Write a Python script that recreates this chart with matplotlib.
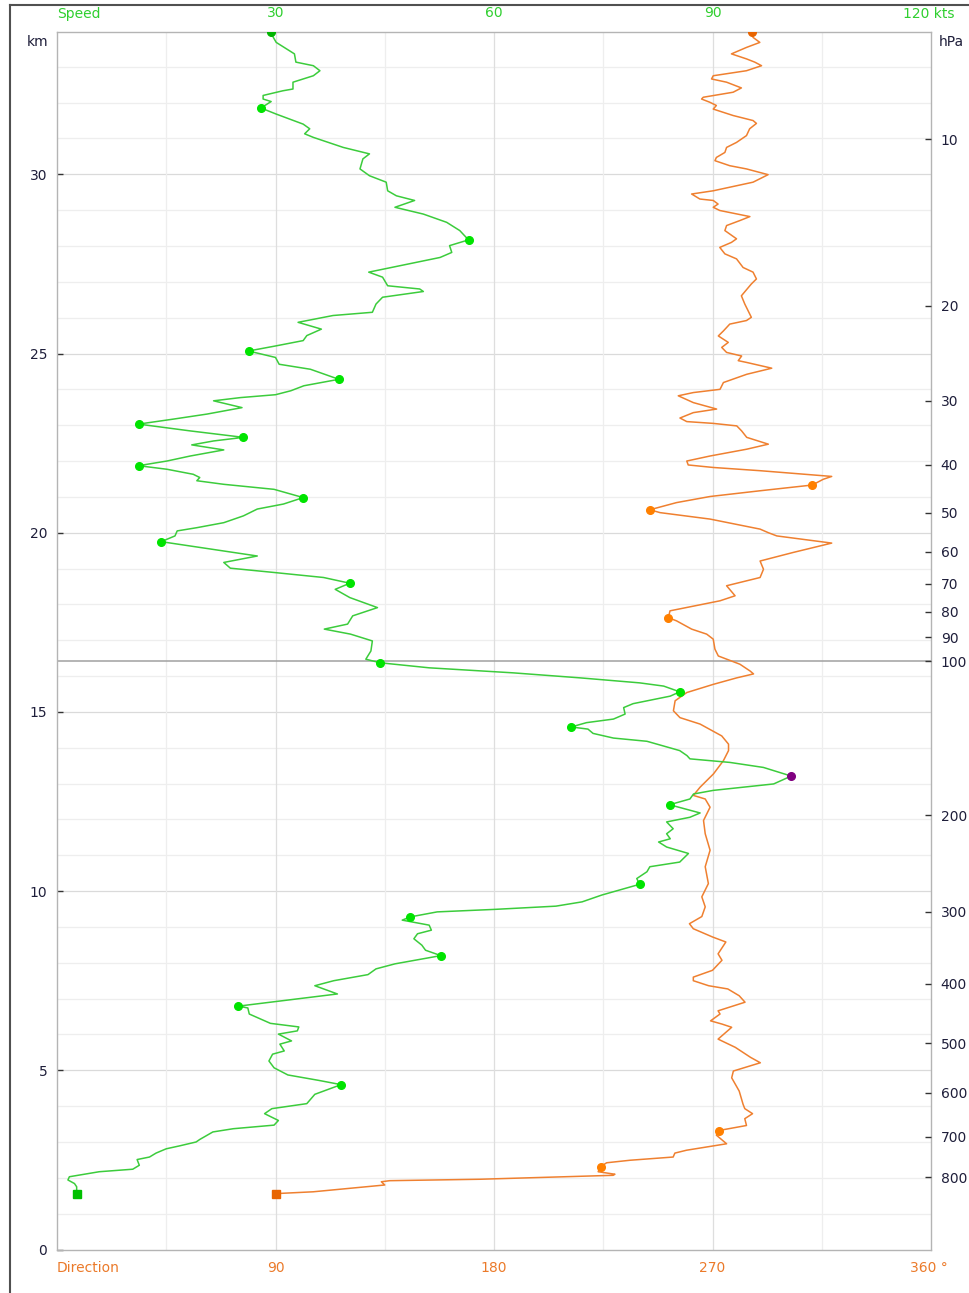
import matplotlib
matplotlib.use("Agg")
import matplotlib.pyplot as plt
from matplotlib.lines import Line2D
from matplotlib.transforms import blended_transform_factory

# ----------------------------
# Data
# ----------------------------

# wind speed profile (height km, speed kts), bottom to top
speed_km = [1.56, 1.75, 1.84, 1.94, 2.03, 2.17, 2.24, 2.35, 2.51, 2.58, 2.69, 2.81, 2.89, 3.00, 3.07,
            3.28, 3.37, 3.47, 3.60, 3.79, 3.93, 4.07, 4.33, 4.60, 4.72, 4.87, 5.07, 5.26, 5.45, 5.54,
            5.73, 5.82, 6.01, 6.10, 6.21, 6.31, 6.57, 6.74, 6.79, 7.13, 7.36, 7.50, 7.67, 7.83, 7.97,
            8.20, 8.35, 8.49, 8.67, 8.81, 8.91, 9.05, 9.19, 9.28, 9.42, 9.49, 9.58, 9.70, 9.89, 10.19,
            10.35, 10.54, 10.68, 10.81, 11.05, 11.23, 11.37, 11.46, 11.60, 11.74, 11.93, 12.06, 12.18,
            12.41, 12.57, 12.71, 12.81, 12.99, 13.21, 13.45, 13.59, 13.69, 13.78, 13.92, 14.18, 14.27,
            14.40, 14.52, 14.58, 14.70, 14.80, 14.94, 15.12, 15.23, 15.44, 15.56, 15.72, 15.81, 15.95,
            16.09, 16.23, 16.37, 16.47, 16.70, 16.98, 17.17, 17.31, 17.45, 17.68, 17.91, 18.19, 18.42,
            18.59, 18.75, 18.89, 19.01, 19.17, 19.35, 19.63, 19.75, 19.91, 20.05, 20.14, 20.28, 20.47,
            20.66, 20.80, 20.98, 21.21, 21.35, 21.45, 21.54, 21.63, 21.77, 21.87, 22.00, 22.14, 22.31,
            22.45, 22.56, 22.66, 22.84, 23.03, 23.17, 23.31, 23.49, 23.68, 23.77, 23.85, 23.96, 24.10,
            24.28, 24.56, 24.70, 24.89, 25.07, 25.21, 25.36, 25.50, 25.68, 25.87, 26.06, 26.15, 26.38,
            26.57, 26.73, 26.80, 26.89, 27.13, 27.27, 27.45, 27.68, 27.82, 28.01, 28.17, 28.43, 28.66,
            28.89, 29.08, 29.27, 29.40, 29.54, 29.78, 29.96, 30.15, 30.43, 30.57, 30.75, 31.03, 31.13,
            31.27, 31.40, 31.68, 31.85, 32.03, 32.10, 32.20, 32.33, 32.38, 32.57, 32.75, 32.89, 33.03,
            33.13, 33.36, 33.50, 33.68, 33.82, 33.96]
speed_kts = [2.7, 2.7, 2.4, 1.5, 1.7, 5.8, 10.4, 11.3, 11.0, 12.7, 13.6, 15.0, 16.8, 19.1, 19.6,
             21.4, 24.2, 29.8, 30.4, 28.5, 29.5, 34.3, 35.4, 39.0, 35.9, 31.7, 29.8, 29.1, 29.6, 31.2,
             30.6, 32.2, 30.4, 33.0, 33.2, 29.3, 26.4, 26.2, 24.9, 38.5, 35.4, 38.0, 42.7, 43.8, 46.4,
             52.7, 50.6, 50.1, 49.0, 49.5, 51.4, 51.1, 47.4, 48.5, 52.2, 60.1, 68.5, 72.1, 74.8, 80.0,
             79.6, 81.0, 81.4, 85.5, 86.7, 83.7, 82.6, 84.2, 83.7, 84.6, 83.7, 86.9, 88.3,
             84.1, 86.9, 87.4, 90.1, 98.4, 100.8, 97.0, 92.4, 86.9, 86.5, 85.5, 81.0, 76.4,
             73.6, 72.9, 70.6, 72.7, 76.4, 78.0, 77.8, 79.1, 84.2, 85.5, 83.3, 80.0, 71.8,
             62.6, 51.1, 44.4, 42.4, 43.1, 43.3, 40.3, 36.7, 39.9, 40.6, 44.0, 40.2, 38.2,
             40.2, 36.6, 29.8, 23.8, 22.9, 27.5, 18.3, 14.3, 16.2, 16.5, 19.2, 22.9, 25.6,
             27.5, 31.1, 33.8, 29.8, 22.9, 19.2, 19.6, 18.7, 15.1, 11.2, 15.1, 18.3, 22.9,
             18.5, 21.5, 25.6, 18.3, 11.2, 16.0, 20.6, 25.4, 21.5, 25.2, 30.0, 32.1, 33.9,
             38.7, 34.8, 30.5, 30.0, 26.3, 30.0, 33.8, 34.3, 36.3, 33.1, 37.9, 43.3, 43.8,
             44.7, 50.3, 49.8, 45.4, 44.7, 42.8, 47.1, 52.6, 54.2, 53.9, 56.5, 55.3, 53.5,
             50.3, 46.4, 49.1, 46.6, 45.4, 45.2, 42.9, 41.6, 42.0, 42.9, 39.3, 35.2, 34.0,
             34.7, 33.8, 30.1, 28.0, 29.4, 28.3, 28.3, 31.0, 32.4, 32.4, 35.2, 36.1, 35.2,
             32.8, 32.6, 31.5, 30.1, 29.7, 29.4]

# wind direction profile (height km, degrees), bottom to top
dir_km = [1.56, 1.61, 1.73, 1.80, 1.89, 1.92, 1.96, 2.07, 2.10, 2.17, 2.31, 2.42, 2.49, 2.58, 2.69,
          2.77, 2.95, 3.19, 3.32, 3.46, 3.65, 3.79, 3.93, 4.05, 4.42, 4.79, 4.98, 5.21, 5.36, 5.64,
          5.87, 6.20, 6.29, 6.38, 6.57, 6.66, 6.90, 7.08, 7.27, 7.36, 7.50, 7.60, 7.79, 8.07, 8.25,
          8.58, 8.72, 8.95, 9.09, 9.29, 9.56, 9.84, 10.21, 10.68, 11.14, 11.60, 11.97, 12.34, 12.57,
          12.67, 12.90, 13.27, 13.64, 13.92, 14.10, 14.33, 14.66, 14.84, 15.03, 15.31, 15.54, 15.77,
          15.95, 16.06, 16.14, 16.33, 16.56, 16.75, 17.03, 17.17, 17.31, 17.54, 17.63, 17.82, 18.10,
          18.24, 18.52, 18.75, 18.98, 19.21, 19.45, 19.71, 19.91, 20.00, 20.10, 20.38, 20.56, 20.64,
          20.84, 21.01, 21.17, 21.33, 21.49, 21.57, 21.73, 21.82, 21.89, 22.00, 22.14, 22.33, 22.47,
          22.66, 22.84, 22.98, 23.05, 23.10, 23.20, 23.35, 23.45, 23.63, 23.82, 23.91, 24.00, 24.19,
          24.42, 24.59, 24.75, 24.80, 24.93, 25.03, 25.17, 25.31, 25.49, 25.63, 25.82, 25.92, 26.01,
          26.38, 26.61, 26.94, 27.08, 27.27, 27.40, 27.64, 27.78, 27.96, 28.10, 28.20, 28.43, 28.57,
          28.71, 28.82, 28.99, 29.08, 29.17, 29.27, 29.31, 29.45, 29.54, 29.78, 29.99, 30.15, 30.24,
          30.38, 30.47, 30.61, 30.75, 30.89, 31.08, 31.27, 31.42, 31.50, 31.64, 31.82, 31.92, 32.01,
          32.10, 32.15, 32.29, 32.41, 32.57, 32.66, 32.75, 32.89, 33.03, 33.13, 33.22, 33.36, 33.54,
          33.68, 33.82, 33.96]
dir_deg = [90.3, 105.5, 124.0, 135.0, 133.6, 137.0, 174.2, 229.1, 229.8, 222.9, 223.9, 226.4, 236.0, 253.8, 254.5,
           259.3, 275.8, 271.6, 272.6, 284.0, 283.3, 286.5, 283.3, 282.6, 281.0, 277.9, 278.6, 289.7, 285.7, 279.4,
           272.3, 277.9, 273.9, 269.2, 273.1, 272.3, 283.4, 281.0, 276.3, 268.4, 262.1, 262.1, 270.0, 273.9, 272.3,
           275.5, 270.0, 262.1, 260.5, 265.6, 267.0, 265.6, 268.3, 267.0, 269.0, 267.0, 266.3, 269.0, 267.0,
           262.1, 264.9, 270.4, 274.5, 276.6, 276.6, 273.8, 264.9, 256.6, 253.9, 254.6, 259.4, 270.4,
           280.0, 286.9, 285.5, 281.3, 272.4, 271.0, 270.3, 267.6, 261.4, 255.2, 251.8, 252.5, 273.1,
           279.3, 275.8, 289.6, 291.0, 289.6, 303.3, 319.1, 296.5, 293.0, 289.6, 269.0, 248.4, 244.2,
           255.2, 269.0, 289.6, 311.1, 315.6, 319.1, 289.6, 270.3, 260.0, 259.4, 269.0, 284.1, 293.0,
           284.1, 282.0, 280.0, 270.3, 259.4, 256.6, 262.1, 271.7, 262.1, 255.9, 262.1, 273.1, 274.5,
           284.1, 294.4, 284.1, 280.6, 282.0, 275.8, 273.8, 276.5, 272.4, 274.5, 277.1, 284.0, 286.0,
           283.3, 281.9, 286.0, 288.1, 286.7, 282.6, 279.9, 275.1, 273.0, 277.8, 279.9, 275.1, 275.8,
           281.3, 285.4, 273.0, 270.3, 272.3, 270.3, 264.8, 261.4, 270.3, 286.7, 292.9, 284.0, 277.1,
           271.0, 271.6, 275.1, 275.8, 279.9, 284.0, 285.3, 288.1, 286.7, 278.5, 270.3, 271.6, 268.9,
           265.5, 266.2, 278.5, 281.9, 275.8, 269.6, 270.3, 284.0, 290.2, 287.4, 284.0, 277.8, 284.0,
           289.5, 286.7, 286.1]

# highlighted points (local extremes)
speed_mark_km = [4.60, 6.79, 8.20, 9.28, 10.19, 12.41, 14.58, 15.56, 16.37, 18.59, 19.75, 20.98,
                 21.87, 22.66, 23.03, 24.28, 25.07, 28.17, 31.85]
speed_mark_kts = [39.0, 24.9, 52.7, 48.5, 80.0, 84.1, 70.6, 85.5, 44.4, 40.2, 14.3, 33.8,
                  11.2, 25.6, 11.2, 38.7, 26.3, 56.5, 28.0]
speed_max_km = 13.21
speed_max_kts = 100.8
dir_mark_km = [2.31, 3.32, 17.63, 20.64, 21.33]
dir_mark_deg = [223.9, 272.6, 251.8, 244.2, 311.1]

# pressure scale on the right (hPa level, height km)
hpa_levels = [10, 20, 30, 40, 50, 60, 70, 80, 90, 100, 200, 300, 400, 500, 600, 700, 800]
hpa_km = [30.98, 26.33, 23.68, 21.89, 20.56, 19.47, 18.57, 17.80, 17.08, 16.42,
          12.12, 9.42, 7.41, 5.76, 4.37, 3.14, 2.02]
tropopause_hpa = 100

km_ticks = [0, 5, 10, 15, 20, 25, 30]
dir_ticks = [90, 180, 270]
speed_ticks = [30, 60, 90]

# ----------------------------
# Styling
# ----------------------------
W, H = 969, 1293
GREEN_LINE = "#3ccc3c"
GREEN_DOT = "#00e400"
GREEN_TXT = "#2fcf2f"
ORANGE_LINE = "#ef8030"
ORANGE_DOT = "#ff8000"
ORANGE_TXT = "#eb7a2a"
AXIS_TXT = "#1e1e3a"
FS = 10

plt.rcParams["font.family"] = ["DejaVu Sans"]

fig = plt.figure(figsize=(W / 100, H / 100), dpi=100)
left, right, top, bottom = 57, 931, 31.5, 1249.5
ax = fig.add_axes([left / W, (H - bottom) / H, (right - left) / W, (bottom - top) / H])
ymax = (bottom - top) / 35.84
ax.set_xlim(0, 360)
ax.set_ylim(0, ymax)

# grid
for k in range(1, int(ymax) + 1):
    ax.axhline(k, color="#dadada" if k % 5 == 0 else "#eeeeee", lw=0.9, zorder=0)
for d in range(45, 360, 45):
    ax.axvline(d, color="#dedede" if d % 90 == 0 else "#eeeeee", lw=0.9, zorder=0)
trop_km = hpa_km[hpa_levels.index(tropopause_hpa)]
ax.axhline(trop_km, color="#a0a0a0", lw=1.1, zorder=1)

for s in ax.spines.values():
    s.set_color("#b4b4b4")
    s.set_linewidth(1.0)

# direction (bottom axis)
ax.plot(dir_deg, dir_km, color=ORANGE_LINE, lw=1.1, zorder=3)
ax.plot(dir_mark_deg, dir_mark_km, "o", color=ORANGE_DOT, ms=5.5, zorder=4)
ax.plot(dir_deg[0], dir_km[0], "s", color="#e86400", ms=5.5, zorder=4)
ax.plot(dir_deg[-1], dir_km[-1], "o", color="#e86400", ms=5.5, zorder=4)

ax.set_xticks(dir_ticks)
ax.set_xticklabels([str(t) for t in dir_ticks], color=ORANGE_TXT, fontsize=FS)
ax.tick_params(axis="x", length=0, pad=8)
ax.set_yticks(km_ticks)
ax.set_yticklabels([str(t) for t in km_ticks], color=AXIS_TXT, fontsize=FS)
ax.tick_params(axis="y", direction="in", length=4, width=1, color="#333333", pad=7)

# speed (top axis)
ax2 = ax.twiny()
ax2.set_xlim(0, 120)
ax2.plot(speed_kts, speed_km, color=GREEN_LINE, lw=1.1, zorder=3)
ax2.plot(speed_mark_kts, speed_mark_km, "o", color=GREEN_DOT, ms=5.5, zorder=4)
ax2.plot(speed_max_kts, speed_max_km, "o", color="#800080", ms=5.5, zorder=4)
ax2.plot(speed_kts[0], speed_km[0], "s", color="#00c000", ms=5.5, zorder=4)
ax2.plot(speed_kts[-1], speed_km[-1], "o", color="#00b400", ms=5.5, zorder=4)
ax2.set_xticks(speed_ticks)
ax2.set_xticklabels([str(t) for t in speed_ticks], color=GREEN_TXT, fontsize=FS)
ax2.tick_params(axis="x", length=0, pad=8)
for s in ax2.spines.values():
    s.set_visible(False)

# pressure (right axis)
ax3 = ax.twinx()
ax3.set_ylim(0, ymax)
ax3.set_yticks(hpa_km)
ax3.set_yticklabels([str(p) for p in hpa_levels], color=AXIS_TXT, fontsize=FS)
ax3.tick_params(axis="y", direction="in", length=4, width=1, color="#333333", pad=7)
for s in ax3.spines.values():
    s.set_visible(False)

# axis captions
tr_top = blended_transform_factory(ax.transAxes, fig.transFigure)
fig.text(left / W, 1 - 14 / H, "Speed", color=GREEN_TXT, fontsize=FS, va="center", ha="left")
fig.text(903 / W, 1 - 14 / H, "120 kts", color=GREEN_TXT, fontsize=FS, va="center", ha="left")
fig.text(left / W, 1 - 1268 / H, "Direction", color=ORANGE_TXT, fontsize=FS, va="center", ha="left")
fig.text(910 / W, 1 - 1268 / H, "360 °", color=ORANGE_TXT, fontsize=FS, va="center", ha="left")
fig.text(38 / W, 1 - 42 / H, "km", color=AXIS_TXT, fontsize=FS, va="center", ha="center")
fig.text(939 / W, 1 - 42 / H, "hPa", color=AXIS_TXT, fontsize=FS, va="center", ha="left")

# window frame of the screenshot
fig.add_artist(Line2D([10 / W, 10 / W], [0, 1 - 5 / H], color="#505050", lw=1.5))
fig.add_artist(Line2D([10 / W, 1], [1 - 5 / H, 1 - 5 / H], color="#505050", lw=1.5))

fig.savefig("out.png", dpi=100)
